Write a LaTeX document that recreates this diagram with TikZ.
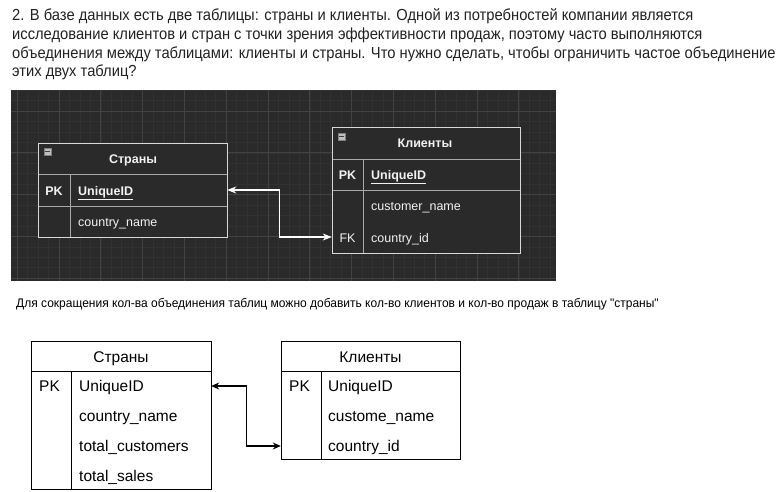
\documentclass[tikz,border=0pt]{standalone}
\usepackage{fontspec}
\setmainfont{Liberation Sans}
\newfontfamily\parafont[FakeStretch=0.92]{Liberation Sans}
\newfontfamily\notefont[FakeStretch=0.96]{Liberation Sans}
\usetikzlibrary{arrows.meta}
\definecolor{bgdark}{HTML}{2A2A2A}
\definecolor{gridminor}{HTML}{313131}
\definecolor{gridmajor}{HTML}{424242}
\definecolor{lineD}{HTML}{D8D8D8}
\definecolor{lineI}{HTML}{A8A8A8}
\definecolor{txtD}{HTML}{F2F2F2}
\definecolor{txtP}{HTML}{222222}
\tikzset{
  para/.style={anchor=west,inner sep=0pt,font=\parafont\fontsize{16}{19}\selectfont,text=txtP,text height=11.5pt,text depth=3.4pt},
  dtxt/.style={anchor=west,inner sep=0pt,font=\fontsize{12.5}{15}\selectfont,text=txtD,text height=9pt,text depth=2.5pt},
  dbold/.style={inner sep=0pt,font=\bfseries\fontsize{12.5}{15}\selectfont,text=txtD,text height=9pt,text depth=2.5pt},
  drow/.style={rectangle,inner sep=0pt,draw=none},
  ltxt/.style={anchor=west,inner sep=0pt,font=\fontsize{15.5}{18}\selectfont,text=black,text height=11.2pt,text depth=3.3pt},
  lctr/.style={inner sep=0pt,font=\fontsize{15.5}{18}\selectfont,text=black,text height=11.2pt,text depth=3.3pt},
  darr/.style={draw=white,line width=1.2pt,{Stealth[length=9pt,width=7pt]}-{Stealth[length=9pt,width=7pt]}},
  larr/.style={draw=black,line width=1.1pt,{Stealth[length=8pt,width=7pt]}-{Stealth[length=8pt,width=7pt]}},
  icon/.style={rectangle,inner sep=0pt,minimum width=7pt,minimum height=7pt,fill=lightgray,draw=gray,line width=0.4pt}
}
\begin{document}
\begin{tikzpicture}[x=1pt,y=-1pt]
\useasboundingbox (0,0) rectangle (780,491);
\fill[white] (0,0) rectangle (780,491);
% paragraph
\node[para] (p1) at (12,16) {2. В базе данных есть две таблицы: страны и клиенты. Одной из потребностей компании является};
\node[para] (p2) at (12,35) {исследование клиентов и стран с точки зрения эффективности продаж, поэтому часто выполняются};
\node[para] (p3) at (12,54) {объединения между таблицами: клиенты и страны. Что нужно сделать, чтобы ограничить частое объединение};
\node[para] (p4) at (12,72.5) {этих двух таблиц?};
% dark background with grid
\fill[bgdark] (11,90) rectangle (556,281);
\begin{scope}
\clip (11,90) rectangle (556,281);
\foreach \i in {-1,...,53} {
  \draw[gridminor,line width=0.6pt] ({17.2+10.45*\i},90) -- ({17.2+10.45*\i},281);
}
\foreach \i in {-5,...,17} {
  \draw[gridminor,line width=0.6pt] (11,{111+10.45*\i}) -- (556,{111+10.45*\i});
}
\foreach \i in {0,...,13} {
  \draw[gridmajor,line width=0.8pt] ({17.2+41.8*\i},90) -- ({17.2+41.8*\i},281);
}
\foreach \i in {-1,...,4} {
  \draw[gridmajor,line width=0.8pt] (11,{111+41.8*\i}) -- (556,{111+41.8*\i});
}
\end{scope}
% dark table Strany
\fill[bgdark] (38,143) rectangle (227,237);
\draw[lineI,line width=0.9pt] (38,174) -- (227,174);
\draw[lineI,line width=0.9pt] (38,206) -- (227,206);
\draw[lineI,line width=0.9pt] (70,174) -- (70,237);
\draw[lineD,line width=1pt] (38,143) rectangle (227,237);
\node[icon] (dSi) at (47.5,151.5) {};
\draw[darkgray,line width=1pt] (45,151.5) -- (50,151.5);
\node[dbold] (dSh) at (133,160.5) {Страны};
\node[drow,minimum width=189pt,minimum height=32pt] (dS1) at (132.5,190) {};
\node[dbold] (dSpk) at (54,192) {PK};
\node[dbold,anchor=west] (dSid) at (78,192) {\underline{UniqueID}};
\node[dtxt] (dSn) at (78,223) {country\_name};
% dark table Klienty
\fill[bgdark] (332,127) rectangle (520,253);
\draw[lineI,line width=0.9pt] (332,159) -- (520,159);
\draw[lineI,line width=0.9pt] (332,190) -- (520,190);
\draw[lineI,line width=0.9pt] (363,159) -- (363,253);
\draw[lineD,line width=1pt] (332,127) rectangle (520,253);
\node[icon] (dKi) at (341.5,136.5) {};
\draw[darkgray,line width=1pt] (339,136.5) -- (344,136.5);
\node[dbold] (dKh) at (425,144.5) {Клиенты};
\node[dbold] (dKpk) at (347.5,176) {PK};
\node[dbold,anchor=west] (dKid) at (371,176) {\underline{UniqueID}};
\node[dtxt] (dKn) at (371,207.5) {customer\_name};
\node[drow,minimum width=188pt,minimum height=31pt] (dK3) at (426,237) {};
\node[dtxt,anchor=center] (dKfk) at (347.5,239) {FK};
\node[dtxt] (dKc) at (371,239) {country\_id};
\draw[darr] (dS1.east) -- ++(52,0) |- (dK3.west);
% note
\node[anchor=west,inner sep=0pt,font=\notefont\fontsize{12.5}{14}\selectfont,text=black] (note) at (16,304) {Для сокращения кол-ва объединения таблиц можно добавить кол-во клиентов и кол-во продаж в таблицу "страны"};
% light table Strany
\draw[black,line width=1pt] (31,341) rectangle (211,489.5);
\draw[black,line width=1pt] (31,371) -- (211,371);
\draw[black,line width=1pt] (71,371) -- (71,489.5);
\node[lctr] (lSh) at (121,358.5) {Страны};
\node[drow,minimum width=180pt,minimum height=30pt] (lS1) at (121,386) {};
\node[lctr] (lSpk) at (49.5,388) {PK};
\node[ltxt] (lSid) at (79,388) {UniqueID};
\node[ltxt] (lSn) at (79,418) {country\_name};
\node[ltxt] (lSc) at (79,448) {total\_customers};
\node[ltxt] (lSs) at (79,478) {total\_sales};
% light table Klienty
\draw[black,line width=1pt] (281,341) rectangle (460,459.5);
\draw[black,line width=1pt] (281,371) -- (460,371);
\draw[black,line width=1pt] (321,371) -- (321,459.5);
\node[lctr] (lKh) at (370.5,358.5) {Клиенты};
\node[lctr] (lKpk) at (299.5,388) {PK};
\node[ltxt] (lKid) at (328,388) {UniqueID};
\node[ltxt] (lKn) at (328,418) {custome\_name};
\node[drow,minimum width=179pt,minimum height=30pt] (lK3) at (370.5,446) {};
\node[ltxt] (lKc) at (328,448) {country\_id};
\draw[larr] (lS1.east) -- ++(35,0) |- (lK3.west);
\end{tikzpicture}
\end{document}
